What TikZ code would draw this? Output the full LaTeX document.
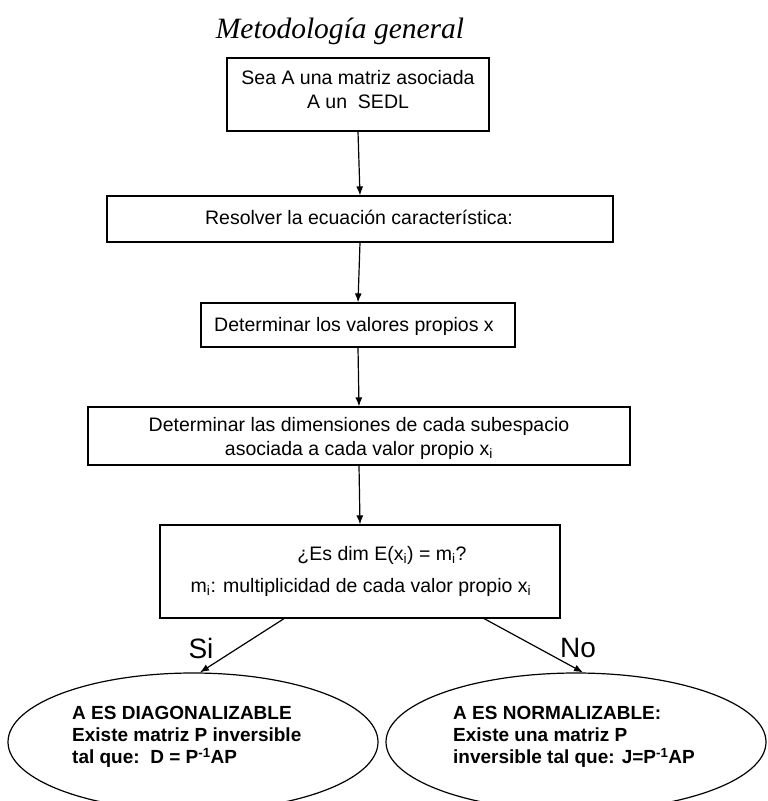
\documentclass[tikz,border=0pt]{standalone}
\usepackage{fontspec}
\setmainfont{Liberation Sans}
\newfontfamily\titlefont{Liberation Serif}
\usetikzlibrary{shapes.geometric,arrows.meta}
\begin{document}
\begin{tikzpicture}[x=1pt,y=-1pt,
  box/.style={draw,line width=1.2pt,rectangle,inner sep=0pt},
  txt/.style={font=\fontsize{19.5}{24}\selectfont,inner sep=0pt,align=center},
  btxt/.style={font=\fontsize{19}{22}\selectfont\bfseries,inner sep=0pt,align=left,anchor=west},
  oval/.style={draw,line width=1.2pt,ellipse,inner sep=0pt},
  arr/.style={line width=1.2pt,-{Latex[length=9pt,width=7pt]}},
  lab/.style={font=\fontsize{28}{30}\selectfont,inner sep=0pt}]
\useasboundingbox (0,0) rectangle (768,801);
\clip (0,0) rectangle (768,801);
\fill[white] (0,0) rectangle (768,801);

\node[inner sep=0pt,font=\titlefont\itshape\fontsize{29.5}{31}\selectfont] (title) at (340,31) {Metodología general};

\node[box,minimum width=262pt,minimum height=73pt] (b1) at (358,94.5) {};
\node[txt] (t1) at (358,90) {Sea A una matriz asociada\\A un\ \ SEDL};

\node[box,minimum width=506pt,minimum height=46pt] (b2) at (360,219) {};
\node[txt] (t2) at (359,217) {Resolver la ecuación característica:};

\node[box,minimum width=314pt,minimum height=44pt] (b3) at (358,325) {};
\node[txt] (t3) at (354,326) {Determinar los valores propios x};

\node[box,minimum width=542pt,minimum height=58pt] (b4) at (359,436) {};
\node[txt] (t4) at (359,438) {Determinar las dimensiones de cada subespacio\\asociada a cada valor propio x\textsubscript{i}};

\node[box,minimum width=400pt,minimum height=93pt] (b5) at (360,571.5) {};
\node[txt] (t5a) at (382,555) {¿Es dim E(x\textsubscript{i}) = m\textsubscript{i}?};
\node[txt] (t5b) at (361,587) {m\textsubscript{i}: multiplicidad de cada valor propio x\textsubscript{i}};

\node[oval,minimum width=370pt,minimum height=138pt] (eL) at (193,742) {};
\node[btxt] (tL) at (72,737) {A ES DIAGONALIZABLE\\Existe matriz P inversible\\tal que:\ \ D = P\textsuperscript{-1}AP};

\node[oval,minimum width=380pt,minimum height=138pt] (eR) at (576,742) {};
\node[btxt] (tR) at (453,737) {A ES NORMALIZABLE:\\Existe una matriz P\\inversible tal que: J=P\textsuperscript{-1}AP};

\draw[arr] (b1.south) -- (b2.north);
\draw[arr] (b2.south) -- (b3.north);
\draw[arr] (b3.south) -- (b4.north);
\draw[arr] (b4.south) -- (b5.north);

\coordinate (sL) at (285,618);
\coordinate (sR) at (483,618);
\draw[arr] (sL) -- ([xshift=7pt]eL.north);
\draw[arr] (sR) -- ([xshift=7pt]eR.north);

\node[lab] (si) at (201,648) {Si};
\node[lab] (no) at (578,648) {No};
\end{tikzpicture}
\end{document}
